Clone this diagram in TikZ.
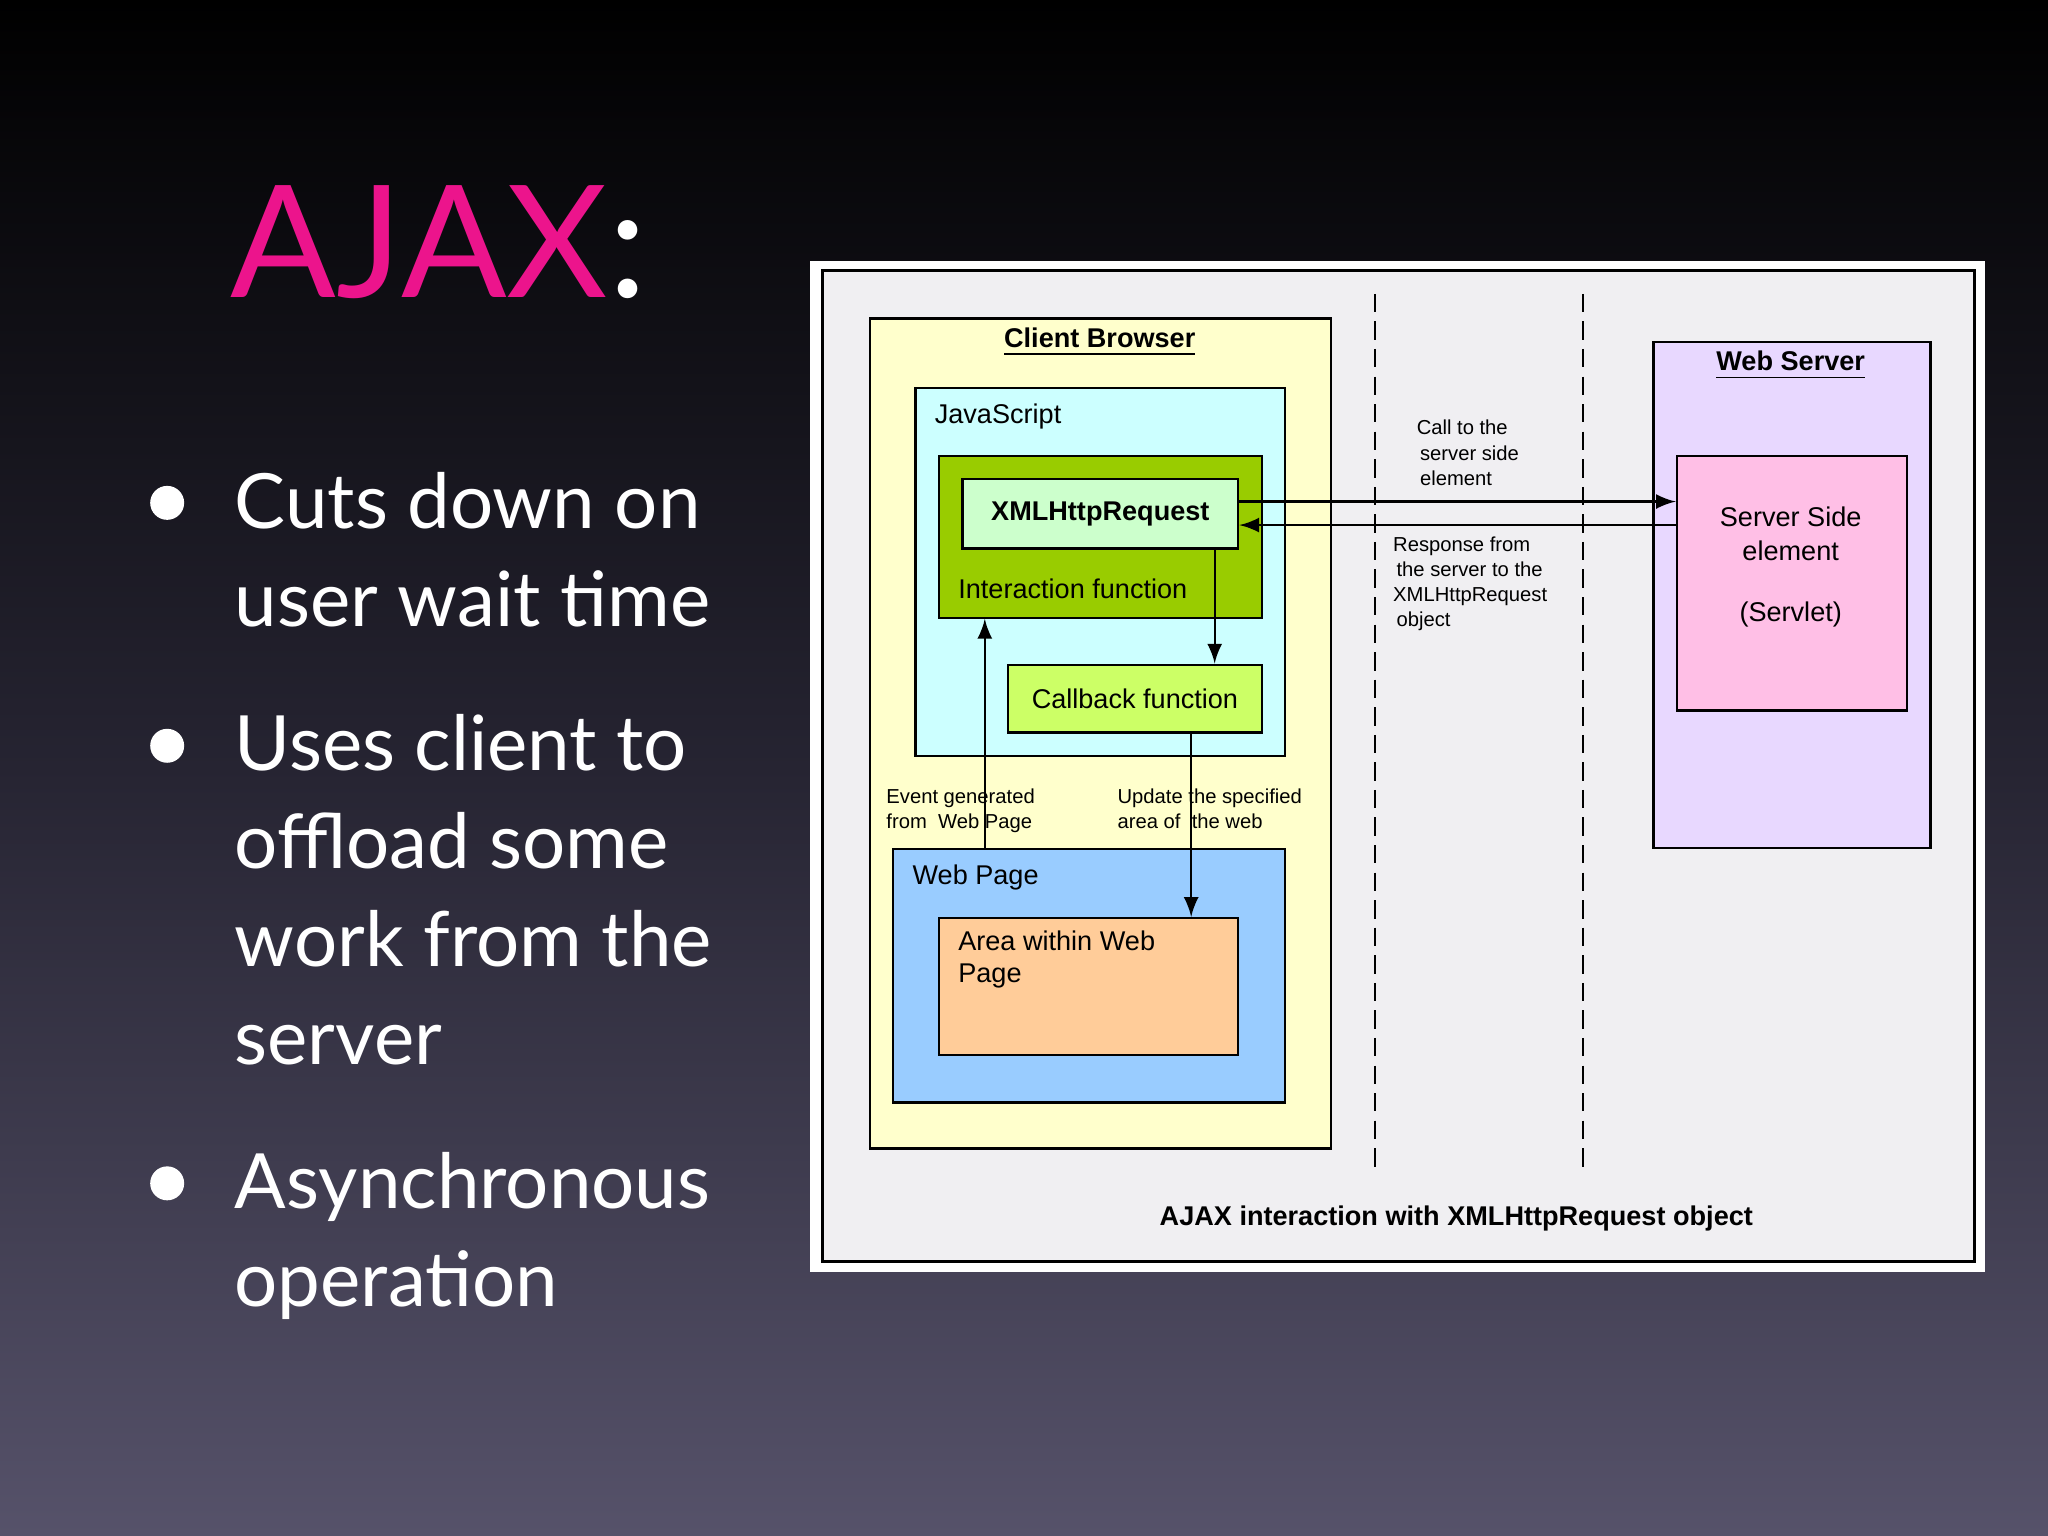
\documentclass[tikz,border=0pt]{standalone}
\usepackage{fontspec}
\setmainfont{Liberation Sans}
\newfontfamily\slidefont{Lato}
\begin{document}
\begin{tikzpicture}[x=0.01cm,y=-0.01cm,
  box/.style={draw=black,line width=0.5pt,inner sep=0pt,anchor=north west},
  lab/.style={font=\fontsize{5.9}{7}\selectfont,inner sep=0pt,anchor=base west},
  small/.style={font=\fontsize{4.4}{5.5}\selectfont,inner sep=0pt,anchor=north west,align=left},
  bul/.style={font=\slidefont\fontsize{16.6}{21}\selectfont,text=white,inner sep=0pt,anchor=base west},
  arr/.style={-latex,line width=0.5pt},
  sep line/.style={line width=0.5pt,dash pattern=on 4pt off 2pt}]
\useasboundingbox (0,0) rectangle (1568,1176);
\shade[top color=black,bottom color={rgb,255:red,86;green,82;blue,106},middle color={rgb,255:red,38;green,36;blue,50}] (0,0) rectangle (1568,1176);
% title
\node[bul,font=\slidefont\fontsize{34}{38}\selectfont] (title) at (176,228) {\textcolor[RGB]{236,20,140}{AJAX}:};
% bullets
\foreach \y in {385,571,906} \fill[white] (128,\y) circle (13);
\node[bul] (b1) at (179,405) {Cuts down on};
\node[bul] (b1b) at (179,480) {user wait time};
\node[bul] (b2) at (179,590) {Uses client to};
\node[bul] (b2b) at (179,665) {offload some};
\node[bul] (b2c) at (179,740) {work from the};
\node[bul] (b2d) at (179,815) {server};
\node[bul] (b3) at (179,925) {Asynchronous};
\node[bul] (b3b) at (179,1000) {operation};
% frame
\fill[white] (620,200) rectangle (1520,974);
\draw[fill={rgb,255:red,240;green,239;blue,242},line width=0.6pt] (630,207) rectangle (1512,966);
\draw[sep line] (1053,225) -- (1053,895);
\draw[sep line] (1212,225) -- (1212,895);
% boxes
\node[box,fill={rgb,255:red,255;green,255;blue,204},minimum width=3.53cm,minimum height=6.35cm] (cbw) at (665,243) {};
\node[font=\fontsize{5.9}{7}\selectfont\bfseries] (cbt) at (842,262) {\underline{Client Browser}};
\node[box,fill={rgb,255:red,204;green,255;blue,255},minimum width=2.83cm,minimum height=2.82cm] (js) at (700,296) {};
\node[lab] (jst) at (715,324) {JavaScript};
\node[box,fill={rgb,255:red,153;green,204;blue,0},minimum width=2.47cm,minimum height=1.24cm] (inf) at (718,348) {};
\node[lab] (inft) at (733,458) {Interaction function};
\node[box,fill={rgb,255:red,204;green,255;blue,204},minimum width=2.11cm,minimum height=0.53cm,font=\fontsize{5.9}{7}\selectfont\bfseries] (xml) at (736,366) {XMLHttpRequest};
\node[box,fill={rgb,255:red,204;green,255;blue,102},minimum width=1.94cm,minimum height=0.52cm,font=\fontsize{5.9}{7}\selectfont] (cb) at (771,508) {Callback function};
\node[box,fill={rgb,255:red,153;green,204;blue,255},minimum width=3.0cm,minimum height=1.94cm] (wp) at (683,649) {};
\node[lab] (wpt) at (698,677) {Web Page};
\node[box,fill={rgb,255:red,255;green,204;blue,153},minimum width=2.29cm,minimum height=1.05cm] (area) at (718,702) {};
\node[lab,anchor=north west,align=left] (areat) at (733,712) {Area within Web\\Page};
\node[box,fill={rgb,255:red,232;green,216;blue,255},minimum width=2.12cm,minimum height=3.87cm] (ws) at (1265,261) {};
\node[font=\fontsize{5.9}{7}\selectfont\bfseries] (wst) at (1371,280) {\underline{Web Server}};
\node[box,fill={rgb,255:red,255;green,191;blue,230},minimum width=1.76cm,minimum height=1.95cm] (srv) at (1283,348) {};
\node[font=\fontsize{5.9}{7.3}\selectfont,align=center] (srvt) at (1371,434) {Server Side\\element\\[6pt](Servlet)};
% coordinates
\coordinate (y384) at (0,384);
\coordinate (y402) at (0,402);
\coordinate (x930) at (930,0);
\coordinate (x754) at (754,0);
\coordinate (x912) at (912,0);
% arrows
\draw[arr] (xml.east |- y384) -- (srv.west |- y384);
\draw[arr] (srv.west |- y402) -- (xml.east |- y402);
\draw[arr] (xml.south -| x930) -- (cb.north -| x930);
\draw[arr] (wp.north -| x754) -- (inf.south -| x754);
\draw[arr] (cb.south -| x912) -- (area.north -| x912);
% labels
\node[small] (l1) at (1084,321) {Call to the\\ \,server side\\ \,element};
\node[small] (l2) at (1066,410) {Response from\\ \,the server to the\\ XMLHttpRequest\\ \,object};
\node[small] (l3) at (678,603) {Event generated\\from\ \ Web Page};
\node[small] (l4) at (855,603) {Update\ the specified\\area of\ \ the web};
\node[font=\fontsize{5.9}{7}\selectfont\bfseries] (cap) at (1115,933) {AJAX interaction with XMLHttpRequest object};
\end{tikzpicture}
\end{document}
